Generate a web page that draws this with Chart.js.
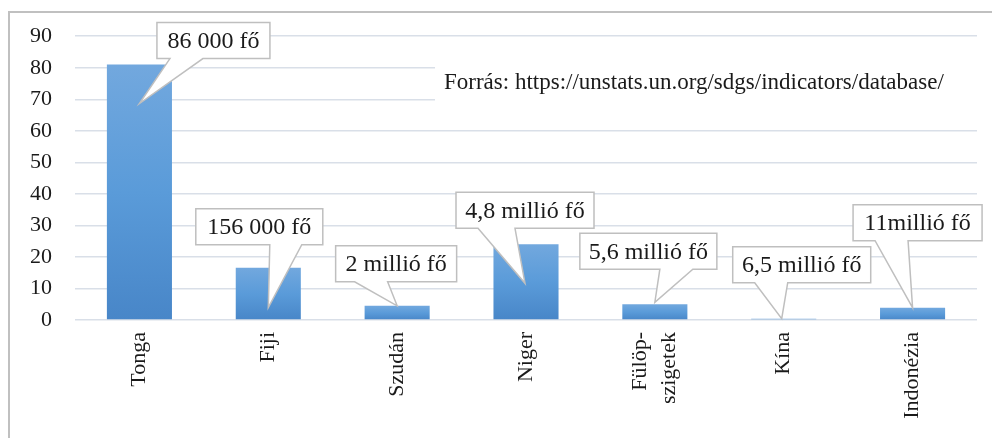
<!DOCTYPE html>
<html><head><meta charset="utf-8">
<script src="https://cdn.jsdelivr.net/npm/chart.js@4/dist/chart.umd.min.js"></script>
<style>html,body{margin:0;padding:0;background:#fff;overflow:hidden;}</style>
</head><body>
<canvas id="c" width="992" height="438"></canvas>
<script>
const categories = [['Tonga'], ['Fiji'], ['Szudán'], ['Niger'], ['Fülöp-', 'szigetek'], ['Kína'], ['Indonézia']];
const values = [81, 16.6, 4.5, 24, 5, 0.4, 3.9];
const calloutLabels = ['86 000 fő', '156 000 fő', '2 millió fő', '4,8 millió fő', '5,6 millió fő', '6,5 millió fő', '11millió fő'];
const yMin = 0, yMax = 90, yStep = 10;
const sourceText = 'Forrás: https://unstats.un.org/sdgs/indicators/database/';

const SERIF = '"Liberation Serif", "Times New Roman", serif';

// callout placement relative to bar centre / bar top (pixels)
const calloutLayout = [
  {dx: 74,   dy: -42,  w: 113, tipDx: 0,  tipDy: 39, b0: 13, b1: 46},
  {dx: -9,   dy: -59,  w: 127, tipDx: 0,  tipDy: 40, b0: 74, b1: 106},
  {dx: -1,   dy: -60,  w: 121, tipDx: 0,  tipDy: 0,  b0: 19, b1: 52},
  {dx: -1,   dy: -52,  w: 138, tipDx: -1, tipDy: 39, b0: 22, b1: 59},
  {dx: -6.5, dy: -71,  w: 137, tipDx: 0,  tipDy: -2, b0: 80, b1: 113},
  {dx: 18,   dy: -72,  w: 138, tipDx: -2, tipDy: 0,  b0: 22, b1: 55},
  {dx: 5,    dy: -103, w: 129, tipDx: 0,  tipDy: 0,  b0: 22, b1: 55}
];

function barGradient(ctx) {
  const chart = ctx.chart;
  if (!chart.chartArea || ctx.type !== 'data') return '#5b9bd5';
  const y = chart.scales.y;
  const top = y.getPixelForValue(ctx.raw);
  const base = y.getPixelForValue(0);
  if (!isFinite(top) || !isFinite(base) || base - top < 1) return '#5b9bd5';
  const g = chart.ctx.createLinearGradient(0, top, 0, base);
  g.addColorStop(0, '#72a8de');
  g.addColorStop(0.5, '#5a9bd9');
  g.addColorStop(1, '#4886c8');
  return g;
}

const decorPlugin = {
  id: 'decor',
  beforeDraw(chart) {
    // centre multi-line rotated category labels on their tick
    const xs = chart.scales.x;
    const items = xs.getLabelItems(chart.chartArea);
    items.forEach(it => {
      if (Array.isArray(it.label) && it.label.length > 1 && !it._centred) {
        it.textOffset -= (it.label.length - 1) * it.font.lineHeight / 2;
        it._centred = true;
      }
    });
  },
  beforeDatasetsDraw(chart) {
    const c = chart.ctx;
    c.save();
    c.fillStyle = '#ffffff';
    c.fillRect(435, 58, 552, 50);
    c.fillStyle = '#1a1a1a';
    c.font = '23px ' + SERIF;
    c.textBaseline = 'middle';
    c.textAlign = 'left';
    c.fillText(sourceText, 444, 83);
    c.restore();
  },
  afterDatasetsDraw(chart) {
    const c = chart.ctx;
    const meta = chart.getDatasetMeta(0);
    c.save();
    c.font = '24px ' + SERIF;
    c.textBaseline = 'middle';
    c.textAlign = 'center';
    meta.data.forEach((bar, i) => {
      const L = calloutLayout[i];
      const h = 36;
      const cx = bar.x + L.dx;
      const left = cx - L.w / 2, right = cx + L.w / 2;
      const top = bar.y + L.dy, bottom = top + h;
      const tx = bar.x + L.tipDx, ty = bar.y + L.tipDy;
      c.beginPath();
      c.moveTo(left, top);
      c.lineTo(right, top);
      c.lineTo(right, bottom);
      c.lineTo(left + L.b1, bottom);
      c.lineTo(tx, ty);
      c.lineTo(left + L.b0, bottom);
      c.lineTo(left, bottom);
      c.closePath();
      c.fillStyle = '#ffffff';
      c.fill();
      c.strokeStyle = '#bfbfbf';
      c.lineWidth = 1.5;
      c.lineJoin = 'miter';
      c.stroke();
      c.fillStyle = '#1a1a1a';
      c.fillText(calloutLabels[i], cx, top + h / 2 + 1);
    });
    c.restore();
  },
  afterDraw(chart) {
    const c = chart.ctx;
    c.save();
    c.strokeStyle = '#c0c0c0';
    c.lineWidth = 2;
    c.beginPath();
    c.moveTo(9, 438);
    c.lineTo(9, 12);
    c.lineTo(992, 12);
    c.stroke();
    c.restore();
  }
};

new Chart(document.getElementById('c'), {
  type: 'bar',
  data: {
    labels: categories,
    datasets: [{
      data: values,
      backgroundColor: barGradient,
      borderWidth: 0,
      barPercentage: 1,
      categoryPercentage: 0.505
    }]
  },
  options: {
    responsive: false,
    devicePixelRatio: 1,
    animation: false,
    layout: {padding: {left: 0, right: 15, top: 33, bottom: 0}},
    plugins: {legend: {display: false}, tooltip: {enabled: false}},
    scales: {
      x: {
        grid: {display: false, drawTicks: false},
        border: {display: false},
        ticks: {
          minRotation: 90, maxRotation: 90, autoSkip: false, padding: 12,
          color: '#1a1a1a', font: {family: SERIF, size: 22, lineHeight: 1.3}
        },
        afterFit(scale) { scale.height = 118; }
      },
      y: {
        min: yMin, max: yMax,
        grid: {color: '#d9dfe8', lineWidth: 1.5, drawTicks: false},
        border: {display: false},
        ticks: {
          stepSize: yStep, padding: 23,
          color: '#1a1a1a', font: {family: SERIF, size: 22}
        },
        afterFit(scale) { scale.width = 75; }
      }
    }
  },
  plugins: [decorPlugin]
});
</script>
</body></html>
